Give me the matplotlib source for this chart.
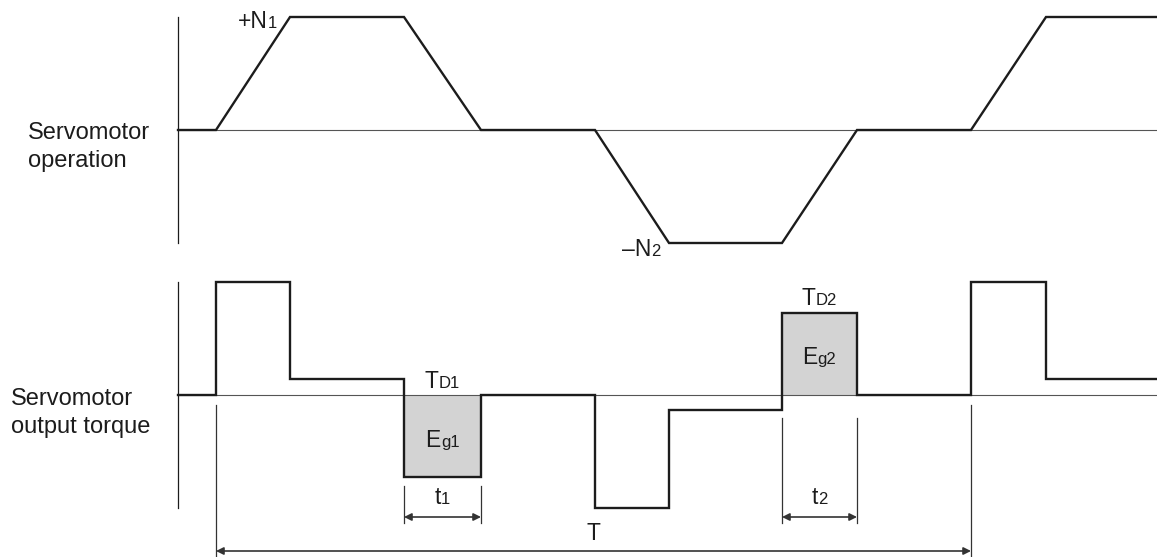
import matplotlib

matplotlib.use("Agg")
import matplotlib.pyplot as plt
import matplotlib.transforms as mtransforms
from matplotlib.offsetbox import AnnotationBbox, HPacker, TextArea

plt.rcParams["font.family"] = ["Liberation Sans", "DejaVu Sans"]

W, H = 1157, 557
INK = "#1c1c1c"

# breakpoints of the duty cycle (time units from the axis origin)
knots = [0, 38, 112, 226, 303, 417, 491, 604, 679, 793, 868, 979]
# servomotor speed at each breakpoint (normalised: +N1 = 1, -N2 = -1)
speed = [0, 0, 1.0, 1.0, 0, 0, -1.0, -1.0, 0, 0, 1.0, 1.0]
# output torque held over each interval between breakpoints (normalised)
torque = [0, 1.0, 0.14, -0.73, 0, -1.0, -0.13, 0.73, 0, 1.0, 0.14]
# intervals with regenerative energy: (interval index, subscript)
regen = [(3, "1"), (7, "2")]
# dimension: whole cycle T from knot 1 to knot 9
cycle = (1, 9)

MAIN_FS = 16.5
SUB_FS = 12


def fy(px):
    """figure fraction for a pixel row counted from the top"""
    return 1 - px / H


def sub_label(ax, xy, main, sub, dx, dy, align=(0.5, 0.5), xycoords="data"):
    # big letter + small index sharing one baseline
    box = HPacker(children=[
        TextArea(main, textprops=dict(fontsize=MAIN_FS, color=INK)),
        TextArea(sub, textprops=dict(fontsize=SUB_FS, color=INK)),
    ], align="baseline", pad=0, sep=0)
    ab = AnnotationBbox(box, xy, xycoords=xycoords, xybox=(dx, dy),
                        boxcoords="offset pixels", box_alignment=align,
                        frameon=False, pad=0, annotation_clip=False)
    ax.add_artist(ab)


def setup(ax):
    ax.set_xlim(0, knots[-1])
    ax.set_ylim(-1, 1)
    for s in ("top", "right", "bottom"):
        ax.spines[s].set_visible(False)
    ax.spines["left"].set_linewidth(0.9)
    ax.spines["left"].set_color(INK)
    ax.set_xticks([])
    ax.set_yticks([])
    ax.patch.set_alpha(0)
    ax.axhline(0, color="#555555", lw=0.8, zorder=1)


fig = plt.figure(figsize=(W / 100, H / 100), dpi=100)
ax1 = fig.add_axes([178 / W, fy(243), 979 / W, 226 / H])
ax2 = fig.add_axes([178 / W, fy(508), 979 / W, 226 / H])
setup(ax1)
setup(ax2)

# speed profile
ax1.plot(knots, speed, color=INK, lw=1.7, clip_on=False,
         solid_joinstyle="miter", zorder=3)
sub_label(ax1, (knots[2], speed[2]), "+N", "1", -13, -4, align=(1, 0.5))
sub_label(ax1, (knots[6], speed[6]), "\u2013N", "2", -8, -6, align=(1, 0.5))

# torque profile
ax2.step(knots, torque + [torque[-1]], where="post", color=INK, lw=1.7,
         clip_on=False, solid_joinstyle="miter", zorder=3)

bx = mtransforms.blended_transform_factory(ax2.transData, fig.transFigure)
arrow = dict(arrowstyle="<|-|>", color="#333333", lw=1.2,
             mutation_scale=11, shrinkA=0, shrinkB=0)

for i, k in regen:
    x0, x1 = knots[i], knots[i + 1]
    lvl = torque[i]
    xm = (x0 + x1) / 2
    ax2.fill_between([x0, x1], 0, lvl, color="#d3d3d3", lw=0, zorder=0.5)
    # T_D label sits above the upper edge of the block
    top = max(lvl, 0)
    sub_label(ax2, (xm, top), "T", "D" + k, 0, 14)
    sub_label(ax2, (xm, lvl / 2), "E", "g" + k, 0, -4)
    # t_k dimension
    y_lo = 486 if lvl < 0 else 418
    for x in (x0, x1):
        ax2.plot([x, x], [fy(y_lo), fy(523)], transform=bx, color="#333333",
                 lw=0.9, clip_on=False)
    ax2.annotate("", xy=(x0, fy(517)), xytext=(x1, fy(517)),
                 xycoords=bx, textcoords=bx, arrowprops=arrow,
                 annotation_clip=False)
    sub_label(ax2, (xm, fy(498)), "t", k, 0, 0, xycoords=bx)

# whole cycle T
c0, c1 = knots[cycle[0]], knots[cycle[1]]
for x in (c0, c1):
    ax2.plot([x, x], [fy(405), fy(557)], transform=bx, color="#333333",
             lw=0.9, clip_on=False)
ax2.annotate("", xy=(c0, fy(551)), xytext=(c1, fy(551)),
             xycoords=bx, textcoords=bx, arrowprops=arrow,
             annotation_clip=False)
ax2.text((c0 + c1) / 2, fy(534), "T", transform=bx, ha="center",
         va="center", fontsize=MAIN_FS, color=INK)

# row titles
fig.text(150 / W, fy(122), "Servomotor\noperation", ha="right", va="top",
         multialignment="left", fontsize=17, color=INK, linespacing=1.35)
fig.text(150 / W, fy(388), "Servomotor\noutput torque", ha="right",
         va="top", multialignment="left", fontsize=17, color=INK,
         linespacing=1.35)

fig.savefig("out.png", dpi=100)
